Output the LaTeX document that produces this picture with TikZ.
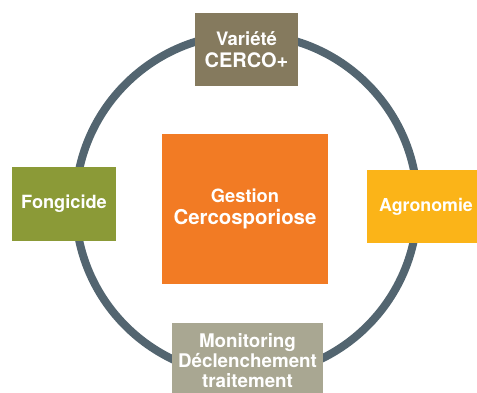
\documentclass[tikz,border=0pt]{standalone}
\usepackage{fontspec}
\setmainfont{TeX Gyre Heros}
\definecolor{ringc}{HTML}{536570}
\definecolor{topc}{HTML}{857A5E}
\definecolor{leftc}{HTML}{8B9A37}
\definecolor{rightc}{HTML}{FBB418}
\definecolor{midc}{HTML}{F27B24}
\definecolor{botc}{HTML}{A9A792}
\begin{document}
\begin{tikzpicture}[x=1pt,y=-1pt,
  ring/.style={draw=ringc, line width=8pt},
  box/.style={draw=none, inner sep=0pt, align=center, text=white}]
\useasboundingbox (0,0) rectangle (477,392);
\coordinate (c) at (246.5,205);
\draw[ring] (c) circle[radius=171pt];
\node[box, fill=midc, minimum width=166pt, minimum height=150pt,
  font=\bfseries\fontsize{18.3}{22}\selectfont] (mid) at (245,209)
  {Gestion\\ {\fontsize{20.4}{22}\selectfont Cercosporiose}};
\node[box, fill=topc, minimum width=103pt, minimum height=73pt,
  font=\bfseries\fontsize{18.5}{22}\selectfont] (var) at (246.5,49.5)
  {Variété\\ {\fontsize{20}{22}\selectfont CERCO+}};
\node[box, fill=leftc, minimum width=104pt, minimum height=74pt,
  font=\bfseries\fontsize{18.2}{21}\selectfont] (fong) at (64,204)
  {Fongicide};
\node[box, fill=rightc, minimum width=118pt, minimum height=73pt,
  font=\bfseries\fontsize{17.8}{21}\selectfont] (agro) at (426,206.5)
  {Agronomie};
\node[box, fill=botc, minimum width=151pt, minimum height=76pt,
  font=\bfseries\fontsize{18.8}{20}\selectfont] (mon) at (247.5,361)
  {Monitoring\\ Déclenchement\\ traitement};
\end{tikzpicture}
\end{document}
